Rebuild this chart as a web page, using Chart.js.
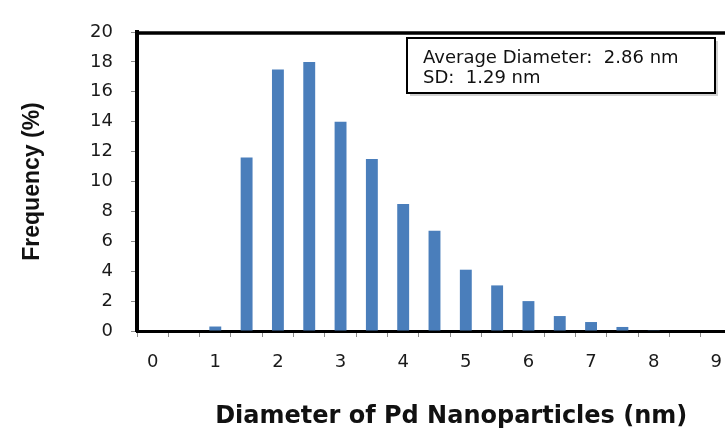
<!DOCTYPE html>
<html>
<head>
<meta charset="utf-8">
<title>Pd nanoparticle size distribution</title>
<script src="https://cdn.jsdelivr.net/npm/chart.js@4.4.1/dist/chart.umd.min.js"></script>
<style>
  html, body { margin: 0; padding: 0; background: #fff; overflow: hidden; }
  #wrap { position: relative; width: 740px; height: 430px; }
</style>
</head>
<body>
<div id="wrap"><canvas id="size-chart"></canvas></div>
<script>
// Diameter bins (nm), 0.5 nm wide
const diameters = ['0', '0.5', '1', '1.5', '2', '2.5', '3', '3.5', '4', '4.5',
                   '5', '5.5', '6', '6.5', '7', '7.5', '8', '8.5', '9'];
// Frequency (%)
const frequency = [0, 0, 0.3, 11.6, 17.5, 18.0, 14.0, 11.5, 8.5, 6.7,
                   4.1, 3.05, 2.0, 1.0, 0.6, 0.27, 0.05, 0, 0];

const avgDiameter = 2.86;
const sdDiameter = 1.29;

const BAR_BLUE = '#4a7ebb';

// Thick top frame line and the stats box in the upper right
const framePlugin = {
  id: 'frame',
  afterDatasetsDraw(chart) {
    const { ctx, chartArea: a } = chart;
    ctx.save();
    ctx.strokeStyle = '#000';
    ctx.lineWidth = 3.5;
    ctx.beginPath();
    ctx.moveTo(a.left - 2, a.top + 1);
    ctx.lineTo(a.right + 10, a.top + 1);
    ctx.stroke();

    const bx = 407, by = 38, bw = 308, bh = 55;
    ctx.fillStyle = 'rgba(0,0,0,0.18)';
    ctx.fillRect(bx + 3, by + 3, bw, bh);
    ctx.fillStyle = '#fff';
    ctx.fillRect(bx, by, bw, bh);
    ctx.lineWidth = 2;
    ctx.strokeRect(bx, by, bw, bh);

    ctx.fillStyle = '#111';
    ctx.font = '18px "DejaVu Sans"';
    ctx.textBaseline = 'alphabetic';
    ctx.textAlign = 'left';
    ctx.fillText(`Average Diameter:  ${avgDiameter.toFixed(2)} nm`, 423, 63);
    ctx.fillText(`SD:  ${sdDiameter.toFixed(2)} nm`, 423, 83);
    ctx.restore();
  }
};

Chart.defaults.font.family = '"DejaVu Sans", sans-serif';
Chart.defaults.color = '#1a1a1a';

new Chart(document.getElementById('size-chart'), {
  type: 'bar',
  data: {
    labels: diameters,
    datasets: [{
      label: 'Frequency (%)',
      data: frequency,
      backgroundColor: BAR_BLUE,
      borderWidth: 0,
      categoryPercentage: 1,
      barPercentage: 0.38
    }]
  },
  options: {
    responsive: true,
    maintainAspectRatio: false,
    animation: false,
    layout: { padding: { top: 32, right: 8, left: 0, bottom: 0 } },
    plugins: {
      legend: { display: false },
      tooltip: { enabled: false }
    },
    scales: {
      x: {
        afterFit: (s) => { s.height = 99; },
        grid: {
          offset: true,
          drawOnChartArea: false,
          drawTicks: true,
          tickLength: 6,
          color: '#8c8c8c'
        },
        border: { color: '#000', width: 3 },
        ticks: {
          autoSkip: false,
          maxRotation: 0,
          padding: 15,
          font: { size: 18 },
          callback: function (val) {
            const lbl = this.getLabelForValue(val);
            return Number.isInteger(Number(lbl)) ? lbl : '';
          }
        },
        title: {
          display: true,
          // leading spaces nudge the title right, as in the original figure
          text: '    Diameter of Pd Nanoparticles (nm)',
          color: '#111',
          font: { size: 24, weight: 'bold' },
          padding: { top: 0, bottom: -1 }
        }
      },
      y: {
        min: 0,
        max: 20,
        afterFit: (s) => { s.width = 137; },
        grid: {
          drawOnChartArea: false,
          drawTicks: true,
          tickLength: 6,
          color: '#8c8c8c'
        },
        border: { color: '#000', width: 4 },
        ticks: {
          stepSize: 2,
          padding: 18,
          font: { size: 18 }
        },
        title: {
          display: true,
          text: 'Frequency (%)',
          color: '#111',
          font: { family: '"Liberation Sans", Arial, sans-serif', size: 23, weight: 'bold' },
          padding: { top: 19, bottom: 0 }
        }
      }
    }
  },
  plugins: [framePlugin]
});
</script>
</body>
</html>
